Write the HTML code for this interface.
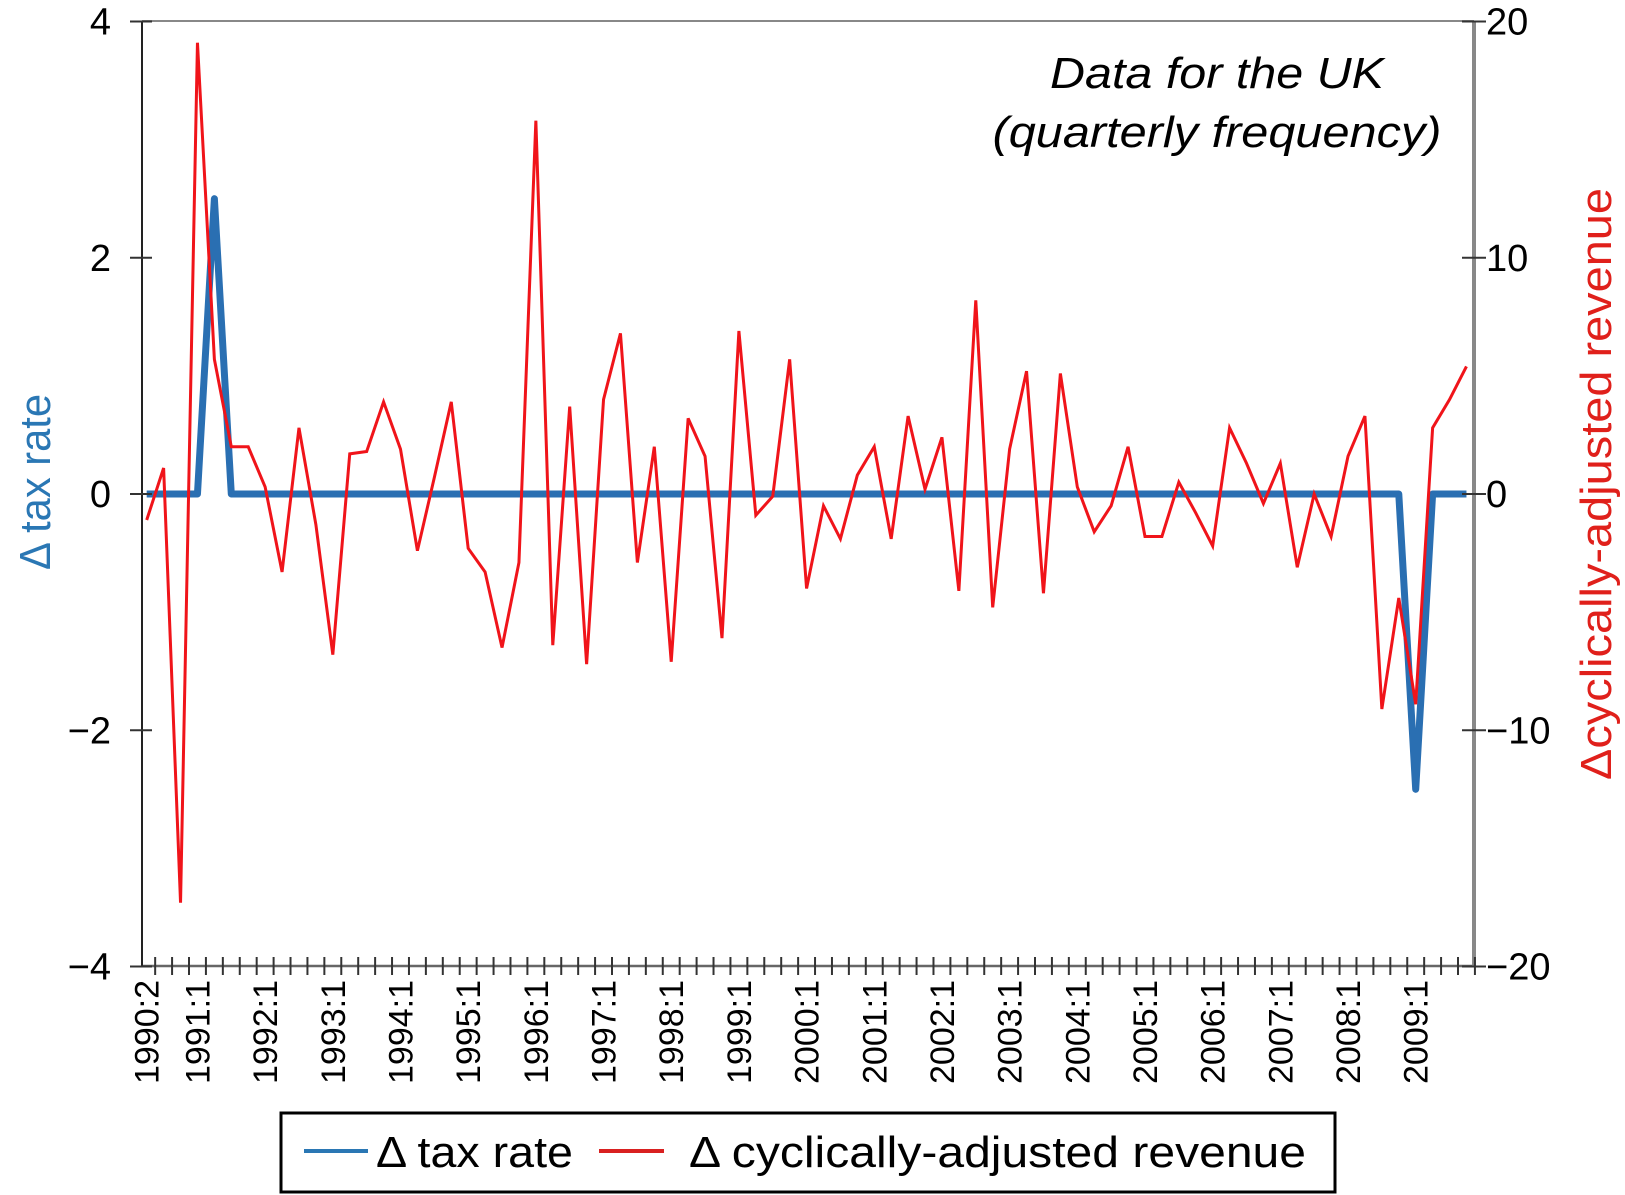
<!DOCTYPE html>
<html><head><meta charset="utf-8"><style>
html,body{margin:0;padding:0;background:#fff;}
svg{display:block;font-family:"Liberation Sans",Arial,sans-serif;}
</style></head><body>
<svg id="chart" width="1625" height="1195" viewBox="0 0 1625 1195" xmlns="http://www.w3.org/2000/svg">
<rect x="0" y="0" width="1625" height="1195" fill="#fff"/>
<g id="grid"></g>
<g id="series"></g>
<g id="axes"></g>
<text x="1217" y="88" font-size="44" font-style="italic" text-anchor="middle" textLength="334" lengthAdjust="spacingAndGlyphs">Data for the UK</text>
<text x="1217" y="147" font-size="44" font-style="italic" text-anchor="middle" textLength="449" lengthAdjust="spacingAndGlyphs">(quarterly frequency)</text>
<text transform="translate(50,482) rotate(-90)" font-size="44" fill="#2a77b4" text-anchor="middle" textLength="176" lengthAdjust="spacingAndGlyphs">Δ tax rate</text>
<text transform="translate(1611,484) rotate(-90)" font-size="44" fill="#e0201b" text-anchor="middle" textLength="592" lengthAdjust="spacingAndGlyphs">Δcyclically-adjusted revenue</text>
<g>
<rect x="281" y="1113" width="1054" height="79" fill="#fff" stroke="#000" stroke-width="3"/>
<line x1="304" y1="1151" x2="368" y2="1151" stroke="#2a77b4" stroke-width="4"/>
<text x="376" y="1167" font-size="44" textLength="197" lengthAdjust="spacingAndGlyphs">Δ tax rate</text>
<line x1="599" y1="1151" x2="664" y2="1151" stroke="#d92020" stroke-width="4"/>
<text x="689" y="1167" font-size="44" textLength="617" lengthAdjust="spacingAndGlyphs">Δ cyclically-adjusted revenue</text>
</g>
</svg>
<script>
const taxRate = [0,0,0,0,2.5,0,0,0,0,0, 0,0,0,0,0,0,0,0,0,0, 0,0,0,0,0,0,0,0,0,0, 0,0,0,0,0,0,0,0,0,0, 0,0,0,0,0,0,0,0,0,0, 0,0,0,0,0,0,0,0,0,0, 0,0,0,0,0,0,0,0,0,0, 0,0,0,0,0,-2.5,0,0,0];
const revenue = [-1.1,1.1,-17.3,19.1,5.7,2.0,2.0,0.3,-3.3,2.8,
 -1.3,-6.8,1.7,1.8,3.9,1.9,-2.4,0.7,3.9,-2.3,
 -3.3,-6.5,-2.9,15.8,-6.4,3.7,-7.2,4.0,6.8,-2.9,
 2.0,-7.1,3.2,1.6,-6.1,6.9,-0.9,-0.1,5.7,-4.0,
 -0.5,-1.9,0.8,2.0,-1.9,3.3,0.2,2.4,-4.1,8.2,
 -4.8,1.9,5.2,-4.2,5.1,0.3,-1.6,-0.5,2.0,-1.8,
 -1.8,0.5,-0.8,-2.2,2.8,1.3,-0.4,1.3,-3.1,0.0,
 -1.8,1.6,3.3,-9.1,-4.4,-8.9,2.8,4.0,5.4];
const xLabels = ["1990:2","1991:1","1992:1","1993:1","1994:1","1995:1","1996:1","1997:1","1998:1","1999:1","2000:1","2001:1","2002:1","2003:1","2004:1","2005:1","2006:1","2007:1","2008:1","2009:1"];
const xLabelIdx = [0,3,7,11,15,19,23,27,31,35,39,43,47,51,55,59,63,67,71,75];
const leftTicks = [4,2,0,-2,-4];
const leftTickText = ["4","2","0","\u22122","\u22124"];
const rightTicks = [20,10,0,-10,-20];
const rightTickText = ["20","10","0","\u221210","\u221220"];

const NS="http://www.w3.org/2000/svg";
const L=142,R=1474,T=21,B=966;
const x0=146.7, dx=16.92;
function xs(i){return x0+i*dx;}
function yl(v){return 494 - v*(B-T)/8;}
function yr(v){return 494 - v*(B-T)/40;}
function mk(tag,attrs,parent){const e=document.createElementNS(NS,tag);for(const k in attrs)e.setAttribute(k,attrs[k]);parent.appendChild(e);return e;}
const axes=document.getElementById('axes'), ser=document.getElementById('series');

let e;
e=mk('line',{x1:L,y1:T,x2:R,y2:T,stroke:'#888','stroke-width':2},axes);


e=mk('line',{x1:L,y1:B,x2:R,y2:B,stroke:'#666','stroke-width':2.5},axes);


e=mk('line',{x1:L,y1:T,x2:L,y2:B,stroke:'#222','stroke-width':2},axes);


e=mk('line',{x1:R,y1:T,x2:R,y2:B,stroke:'#888','stroke-width':4},axes);



for(let i=1;i<=revenue.length;i++){
  const tx = xs(i-1)+dx/2;
  e=mk('line',{x1:tx,y1:B-9,x2:tx,y2:B+9,stroke:'#333','stroke-width':2},axes);
  
  
}
xLabels.forEach((lab,k)=>{
  const x=xs(xLabelIdx[k])+12;
  e=mk('text',{transform:`translate(${x},980) rotate(-90)`,'font-size':34,'text-anchor':'end'},axes);
  e.textContent=lab;
  
  
});
leftTicks.forEach((v,k)=>{
  const y=yl(v);
  e=mk('line',{x1:L-12,y1:y,x2:L+10,y2:y,stroke:'#333','stroke-width':2},axes);
  
  
  e=mk('text',{x:111,y:y+13,'font-size':38,'text-anchor':'end'},axes);
  e.textContent=leftTickText[k];
  
  
});
rightTicks.forEach((v,k)=>{
  const y=yr(v);
  e=mk('line',{x1:R-12,y1:y,x2:R+12,y2:y,stroke:'#333','stroke-width':2},axes);
  
  
  e=mk('text',{x:1486,y:y+13,'font-size':38},axes);
  e.textContent=rightTickText[k];
  
  
});

e=mk('polyline',{points:taxRate.map((v,i)=>xs(i)+','+yl(v)).join(' '),fill:'none',stroke:'#2a6fb2','stroke-width':7,'stroke-linejoin':'round'},ser);


e=mk('polyline',{points:revenue.map((v,i)=>xs(i)+','+yr(v)).join(' '),fill:'none',stroke:'#f0141a','stroke-width':3,'stroke-linejoin':'miter'},ser);


</script>
</body></html>
